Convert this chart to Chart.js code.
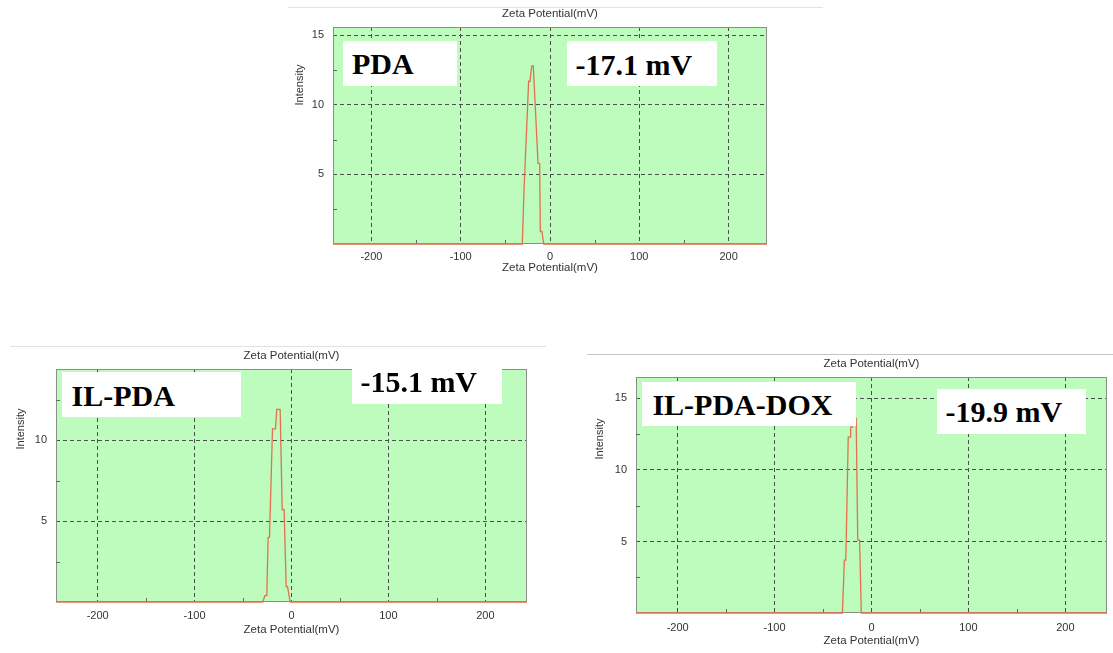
<!DOCTYPE html>
<html>
<head>
<meta charset="utf-8">
<script src="https://cdn.jsdelivr.net/npm/chart.js@4.4.0/dist/chart.umd.min.js"></script>
<style>
  html, body { margin: 0; padding: 0; }
  body { width: 1113px; height: 653px; overflow: hidden; background: #fff; position: relative; }
  canvas { position: absolute; }
  .rule { position: absolute; height: 1px; }
  .tag { position: absolute; background: #fff; z-index: 5; }
  .tag span {
    position: absolute; white-space: nowrap; color: #000;
    font: bold 30px 'Liberation Serif', 'Times New Roman', serif; line-height: 30px;
  }
</style>
</head>
<body>
<script>
// zeta potential distributions (mV, intensity)
const pdaX = [-243, -31, -29.1, -28, -23.9, -22.4, -20.5, -18.7, -13.4, -11.6, -10.8, -9, -7.1, 243];
const pdaY = [0, 0, 3.9, 3.9, 11.7, 11.7, 12.8, 12.8, 5.8, 5.8, 0.9, 0.9, 0, 0];

const ilPdaX = [-243, -29.6, -27.5, -25.5, -24.1, -22.7, -19.6, -16.5, -15.2, -11.7, -9.6, -7.6, -5.5, -4.1, -1.4, 243];
const ilPdaY = [0, 0, 0.4, 0.4, 4.0, 4.0, 10.7, 10.7, 11.9, 11.9, 5.7, 5.7, 0.95, 0.95, 0, 0];

const ilPdaDoxX = [-243, -30, -28, -26.5, -24, -22, -21.5, -19.5, -17.8, -15.8, -14.2, -12.3, -10.5, 243];
const ilPdaDoxY = [0, 0, 3.7, 3.7, 12.3, 12.3, 13.0, 13.0, 13.6, 13.6, 5.1, 5.1, 0, 0];

const samples = ['PDA', 'IL-PDA', 'IL-PDA-DOX'];
const zetaMeans = ['-17.1 mV', '-15.1 mV', '-19.9 mV'];

const xMajorTicks = [-200, -100, 0, 100, 200];
const xMinorTicks = [-150, -50, 50, 150];
const yMajorTicks = [5, 10, 15];
const yMinorTicks = [2.5, 7.5, 12.5];

// styling
const PLOT_BG = '#bdfcbd';
const FRAME = '#8a8f8a';
const GRID = '#4d4d4d';
const LINE = '#e4704f';
const TEXT = '#333';
const AXIS_W = 50, PAD_R = 6, TOP_H = 24, BOTTOM_H = 40;
const TITLE_FONT = { size: 11.5 };

Chart.defaults.font.family = "'Liberation Sans', Arial, sans-serif";
Chart.defaults.font.size = 11;
Chart.defaults.color = TEXT;

// plot rectangles in page pixels
const panels = [
  { left: 333, top: 27, right: 767, bottom: 244, yMax: 15.6, xTickPad: 6.4, xTitlePad: 9, yTitleGap: 33, yTitleDown: 58,
    rule: { left: 288, top: 7, width: 535, color: '#e2e2e2' } },
  { left: 56, top: 369, right: 527, bottom: 602, yMax: 14.4, xTickPad: 7.1, xTitlePad: 5.4, yTitleGap: 35.5, yTitleDown: 60,
    rule: { left: 10, top: 346, width: 536, color: '#e2e2e2' } },
  { left: 636, top: 377, right: 1107, bottom: 613, yMax: 16.5, xTickPad: 8, xTitlePad: 5.1, yTitleGap: 36, yTitleDown: 62,
    rule: { left: 587, top: 354, width: 526, color: '#c4c4c4' } }
];

// white label boxes: [box left, top, width, height, text left, text baseline]
const nameBoxes = [
  [343, 41, 114, 45, 352, 74],
  [62, 372, 179, 45, 71.6, 406],
  [642, 382, 214, 44, 652.4, 415]
];
const zetaBoxes = [
  [567, 41, 150, 45, 575.5, 75],
  [351.5, 367, 150, 37, 360.4, 392.3],
  [937, 389, 149, 45, 945.5, 422.3]
];

const plotFrame = {
  id: 'plotFrame',
  beforeDraw(chart) {
    const { ctx, chartArea: a } = chart;
    ctx.save();
    ctx.fillStyle = PLOT_BG;
    ctx.fillRect(a.left, a.top, a.right - a.left, a.bottom - a.top);
    ctx.restore();
  },
  beforeDatasetsDraw(chart, args, opts) {
    const { ctx, chartArea: a, scales } = chart;
    ctx.save();
    ctx.strokeStyle = FRAME;
    ctx.lineWidth = 1;
    ctx.strokeRect(a.left + 0.5, a.top + 0.5, a.right - a.left - 1, a.bottom - a.top - 1);

    // small minor tick marks on the frame
    ctx.strokeStyle = '#666';
    ctx.beginPath();
    xMinorTicks.forEach(v => {
      const px = Math.round(scales.x.getPixelForValue(v)) + 0.5;
      ctx.moveTo(px, a.bottom);
      ctx.lineTo(px, a.bottom - 4);
    });
    yMinorTicks.forEach(v => {
      if (v > scales.y.max) return;
      const py = Math.round(scales.y.getPixelForValue(v)) + 0.5;
      ctx.moveTo(a.left, py);
      ctx.lineTo(a.left + 4, py);
    });
    ctx.stroke();

    // y axis title sits high on the axis in the original
    ctx.fillStyle = TEXT;
    ctx.font = "11px 'Liberation Sans', Arial, sans-serif";
    ctx.textAlign = 'center';
    ctx.textBaseline = 'middle';
    ctx.translate(a.left - opts.gap, a.top + opts.down);
    ctx.rotate(-Math.PI / 2);
    ctx.fillText('Intensity', 0, 0);
    ctx.restore();
  }
};

function tickValue(ctx) {
  return ctx && ctx.tick ? ctx.tick.value : null;
}

function makeChart(p, xs, ys) {
  const canvas = document.createElement('canvas');
  const w = p.right - p.left + AXIS_W + PAD_R;
  const h = p.bottom - p.top + TOP_H + BOTTOM_H;
  canvas.width = w;
  canvas.height = h;
  canvas.style.width = w + 'px';
  canvas.style.height = h + 'px';
  canvas.style.left = (p.left - AXIS_W) + 'px';
  canvas.style.top = (p.top - TOP_H) + 'px';
  document.body.appendChild(canvas);

  new Chart(canvas.getContext('2d'), {
    type: 'scatter',
    data: {
      datasets: [{
        data: xs.map((x, i) => ({ x: x, y: ys[i] })),
        showLine: true,
        borderColor: LINE,
        borderWidth: 1.3,
        pointRadius: 0,
        tension: 0,
        clip: false
      }]
    },
    options: {
      responsive: false,
      animation: false,
      devicePixelRatio: 1,
      layout: { padding: { left: 0, right: PAD_R, top: 0, bottom: 0 } },
      plugins: {
        legend: { display: false },
        tooltip: { enabled: false },
        title: { display: false },
        plotFrame: { gap: p.yTitleGap, down: p.yTitleDown }
      },
      scales: {
        x: {
          type: 'linear',
          position: 'bottom',
          min: -243,
          max: 243,
          afterFit: s => { s.height = BOTTOM_H; },
          ticks: {
            stepSize: 50,
            includeBounds: false,
            autoSkip: false,
            maxRotation: 0,
            padding: p.xTickPad,
            color: TEXT,
            callback: v => xMajorTicks.includes(v) ? String(v) : ''
          },
          grid: {
            drawTicks: false,
            lineWidth: 1,
            color: c => xMajorTicks.includes(tickValue(c)) ? GRID : 'rgba(0,0,0,0)'
          },
          border: { display: false, dash: [4, 3] },
          title: { display: true, text: 'Zeta Potential(mV)', color: TEXT, font: TITLE_FONT, padding: { top: 0, bottom: p.xTitlePad } }
        },
        x2: {
          type: 'linear',
          position: 'top',
          min: -243,
          max: 243,
          afterFit: s => { s.height = TOP_H; },
          ticks: { display: false },
          grid: { display: false },
          border: { display: false },
          title: { display: true, text: 'Zeta Potential(mV)', color: TEXT, font: TITLE_FONT, padding: { top: 4.2, bottom: 0 } }
        },
        y: {
          type: 'linear',
          min: 0,
          max: p.yMax,
          afterFit: s => { s.width = AXIS_W; },
          ticks: {
            stepSize: 2.5,
            includeBounds: false,
            padding: 9,
            color: TEXT,
            callback: v => yMajorTicks.includes(v) ? String(v) : ''
          },
          grid: {
            drawTicks: false,
            lineWidth: 1,
            color: c => yMajorTicks.includes(tickValue(c)) ? GRID : 'rgba(0,0,0,0)'
          },
          border: { display: false, dash: [4, 3] },
          title: { display: false }
        }
      }
    },
    plugins: [plotFrame]
  });
}

function addTag(b, text) {
  const box = document.createElement('div');
  box.className = 'tag';
  box.style.left = b[0] + 'px';
  box.style.top = b[1] + 'px';
  box.style.width = b[2] + 'px';
  box.style.height = b[3] + 'px';
  const span = document.createElement('span');
  span.textContent = text;
  span.style.left = (b[4] - b[0]) + 'px';
  span.style.top = (b[5] - 25.1 - b[1]) + 'px';
  box.appendChild(span);
  document.body.appendChild(box);
}

const series = [[pdaX, pdaY], [ilPdaX, ilPdaY], [ilPdaDoxX, ilPdaDoxY]];

panels.forEach((p, i) => {
  const rule = document.createElement('div');
  rule.className = 'rule';
  rule.style.left = p.rule.left + 'px';
  rule.style.top = p.rule.top + 'px';
  rule.style.width = p.rule.width + 'px';
  rule.style.background = p.rule.color;
  document.body.appendChild(rule);

  makeChart(p, series[i][0], series[i][1]);
  addTag(nameBoxes[i], samples[i]);
  addTag(zetaBoxes[i], zetaMeans[i]);
});
</script>
</body>
</html>
